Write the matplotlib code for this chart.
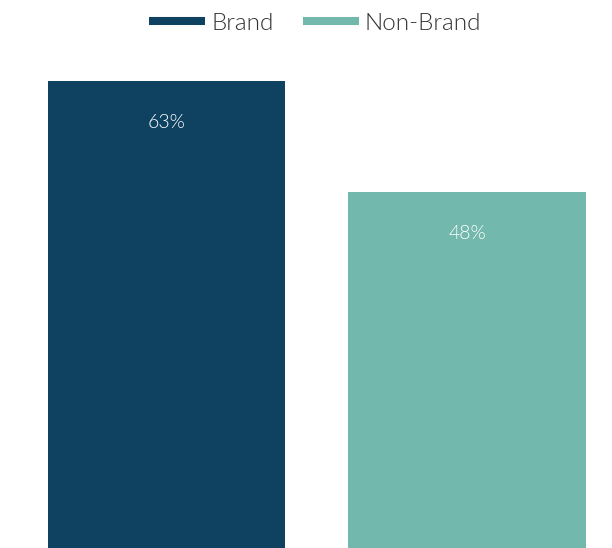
import matplotlib.pyplot as plt
from matplotlib.lines import Line2D

# data
categories = ['Brand', 'Non-Brand']
values = [63, 48]
labels = ['63%', '48%']
colors = ['#0f4261', '#72b8ad']

plt.rcParams['font.family'] = ['Lato', 'DejaVu Sans']

fig = plt.figure(figsize=(6.12, 5.48), dpi=100)
ax = fig.add_axes([0, 0, 1, 1])

x = list(range(len(categories)))
bars = ax.bar(x, values, width=0.789, color=colors)

for b, lab in zip(bars, labels):
    ax.text(b.get_x() + b.get_width() / 2, b.get_height() - 5.6, lab,
            ha='center', va='center', color='white', fontsize=14, fontweight=300)

ax.set_xlim(-0.554, 1.4825)
ax.set_ylim(0, 73.85)
ax.axis('off')

handles = [Line2D([0], [0], color=c, lw=5.8, solid_capstyle='butt') for c in colors]
fig.legend(handles, categories, loc='center', bbox_to_anchor=(0.515, 1 - 23 / 548),
           ncol=2, frameon=False, handlelength=2.3, handletextpad=0.26,
           columnspacing=1.2, labelcolor='#333333', prop={'weight': 300, 'size': 17.5})

fig.savefig('out.png', dpi=100)
